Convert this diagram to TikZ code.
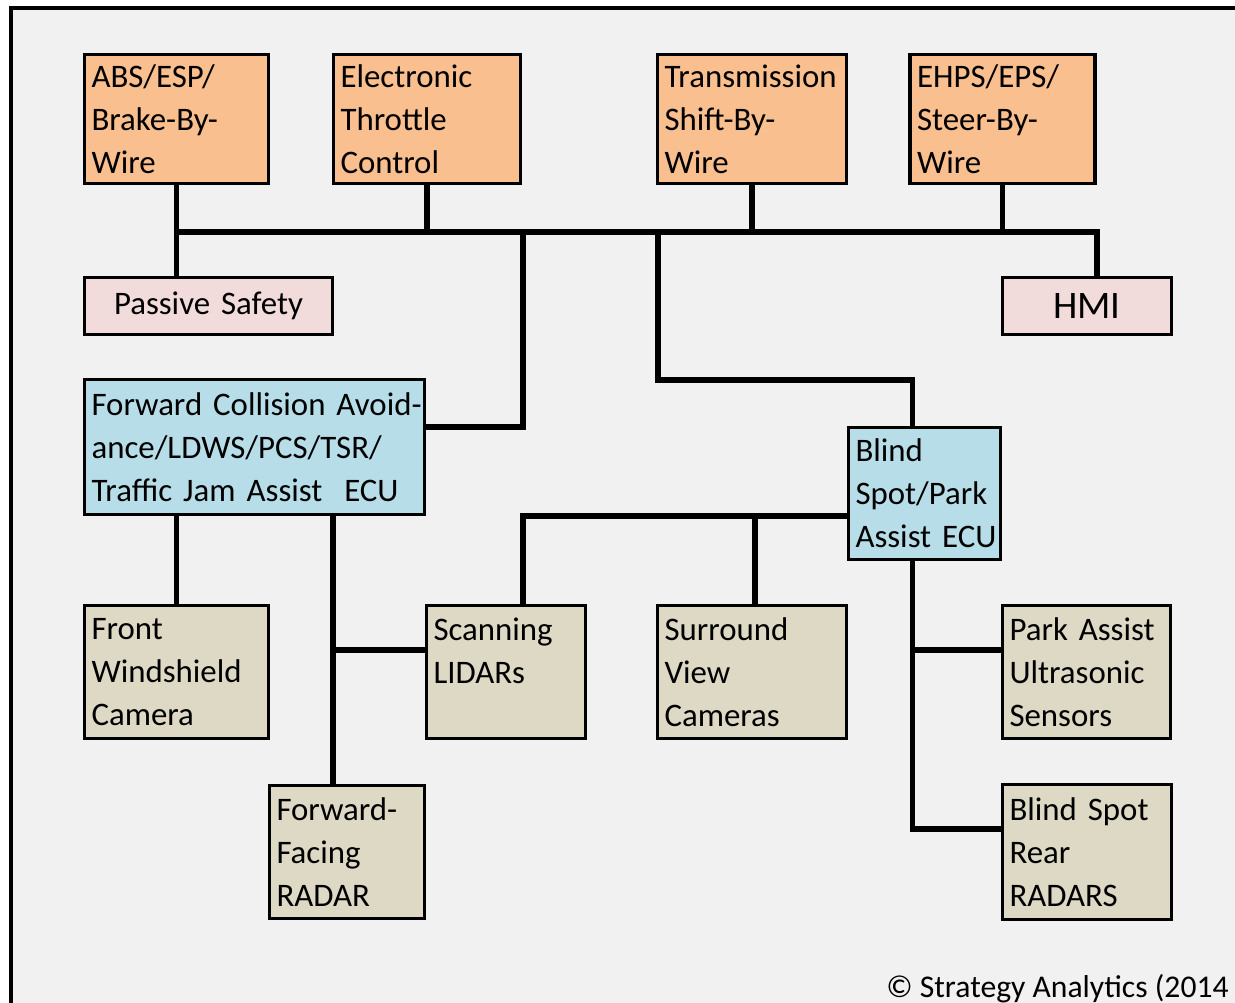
\documentclass[tikz,border=0pt]{standalone}
\usepackage{fontspec}
\setmainfont{Carlito}
\usetikzlibrary{calc}
\definecolor{actC}{RGB}{250,191,143}
\definecolor{hmiC}{RGB}{242,220,219}
\definecolor{ecuC}{RGB}{183,222,232}
\definecolor{sensC}{RGB}{221,217,196}
\definecolor{bgC}{RGB}{241,241,241}
\newcommand{\boxfont}{\fontsize{18.7}{24.5}\selectfont}

\begin{document}
\begin{tikzpicture}[x=0.02cm, y=-0.02cm,
  unit/.style={draw, line width=1.8pt, inner xsep=0.14cm, inner ysep=0pt, align=left, font=\boxfont},
  actuator/.style={unit, fill=actC, minimum height=2.58cm},
  hmibox/.style={unit, fill=hmiC, align=center, minimum height=1.14cm},
  ecubox/.style={unit, fill=ecuC},
  sensor/.style={unit, fill=sensC, minimum height=2.66cm},
  wire/.style={line width=3pt}]
\useasboundingbox (0,0) rectangle (1235,1003);
\fill[bgC] (11,8) rectangle (1235,1003);
\draw[line width=2.3pt] (11,1003) -- (11,8) -- (1235,8);

% Top row: actuators
\node[actuator, text width=3.40cm] (abs) at (176.5,119) {ABS/ESP/\\Brake-By-\\Wire};
\node[actuator, text width=3.46cm] (etc) at (427,119) {Electronic\\Throttle\\Control};
\node[actuator, text width=3.50cm] (trans) at (752,119) {Transmission\\Shift-By-\\Wire};
\node[actuator, text width=3.42cm] (ehps) at (1002.5,119) {EHPS/EPS/\\Steer-By-\\Wire};

% Passive safety and HMI
\node[hmibox, text width=4.68cm] (passive) at (208.5,306) {Passive Safety};
\node[hmibox, text width=3.10cm, font=\fontsize{22.2}{26}\selectfont] (hmi) at (1087,306) {HMI};

% ECUs
\node[ecubox, text width=6.52cm, minimum height=2.70cm] (fca) at (254.5,447)
  {\mbox{Forward Collision Avoid-}\\ance/LDWS/PCS/TSR/\\\mbox{Traffic Jam Assist\ \ ECU}};
\node[ecubox, text width=2.76cm, minimum height=2.64cm] (bspa) at (924.5,493.5)
  {Blind\\Spot/Park\\\mbox{Assist ECU}};

% Sensors
\node[sensor, text width=3.40cm] (fwc) at (176.5,672) {Front\\Windshield\\Camera};
\node[sensor, text width=2.90cm] (lidar) at (506,672) {Scanning\\LIDARs\\\mbox{}};
\node[sensor, text width=3.50cm] (svc) at (752,672) {Surround\\View\\Cameras};
\node[sensor, text width=3.08cm] (paus) at (1086.5,672) {\mbox{Park Assist}\\Ultrasonic\\Sensors};
\node[sensor, text width=2.82cm] (ffr) at (347,852) {Forward-\\Facing\\RADAR};
\node[sensor, text width=3.10cm, minimum height=2.70cm] (bsrr) at (1087,852) {\mbox{Blind Spot}\\Rear\\RADARS};

\node[anchor=base west, font=\fontsize{18}{22}\selectfont, inner sep=0pt] (copy) at (886,997) {© Strategy Analytics (2014};

% Bus
\coordinate (bus) at (0,232);
\draw[wire] (abs.south) -- (abs.south |- passive.north);
\draw[wire] (abs.south |- bus) -| ($(hmi.north)+(10,0)$);
\draw[wire] (etc.south) -- (etc.south |- bus);
\draw[wire] (trans.south) -- (trans.south |- bus);
\draw[wire] (ehps.south) -- (ehps.south |- bus);

% Links to the ECUs
\coordinate (tapF) at (523,232);
\coordinate (tapB) at (658,232);
\draw[wire] (tapF) |- ($(fca.east)+(0,-20)$);
\draw[wire] (tapB) -- ++(0,148) -| ($(bspa.north)+(-12,0)$);

% FCA sensors
\coordinate (tapR) at (333,650);
\draw[wire] (fwc.north |- fca.south) -- (fwc.north);
\draw[wire] (tapR |- fca.south) -- (tapR |- ffr.north);
\draw[wire] (tapR) -- (tapR -| lidar.west);

% Blind spot / park assist sensors
\coordinate (tapS) at (755,516);
\coordinate (tapP) at (912,650);
\draw[wire] (bspa.west |- tapS) -| ($(lidar.north)+(17,0)$);
\draw[wire] (tapS) -- (tapS |- svc.north);
\draw[wire] ($(bspa.south)+(-12,0)$) |- ($(bsrr.west)+(0,-23)$);
\draw[wire] (tapP) -- (tapP -| paus.west);
\end{tikzpicture}
\end{document}
